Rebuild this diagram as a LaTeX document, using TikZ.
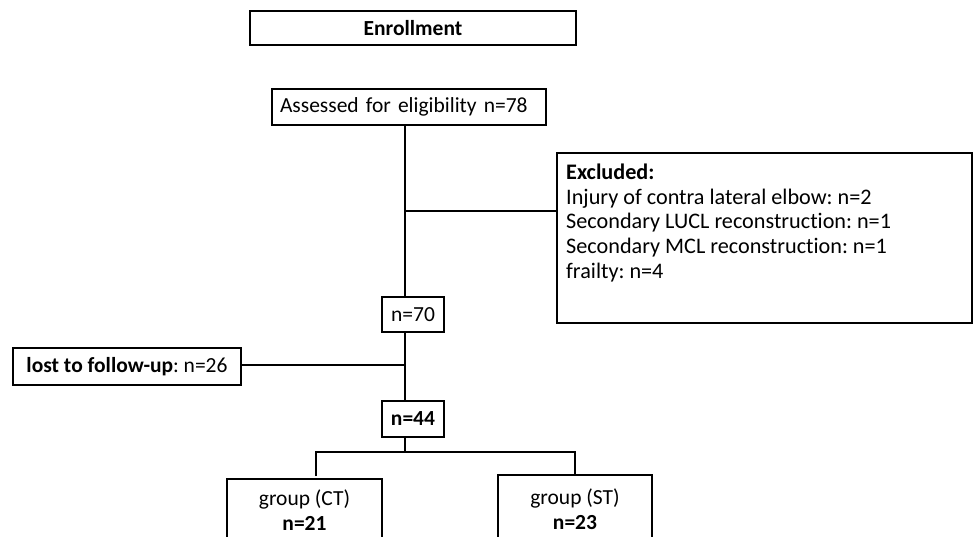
\documentclass[tikz,border=0pt]{standalone}
\usepackage{fontspec}
\setmainfont{Carlito}[Ligatures=NoCommon]
\frenchspacing
\begin{document}
\frenchspacing
\begin{tikzpicture}[x=1pt,y=-1pt,
  box/.style={draw, line width=1.4pt, inner sep=0pt},
  conn/.style={line width=1.4pt},
  font=\fontsize{21.5}{25}\selectfont]
\useasboundingbox (0,0) rectangle (973,537);
\clip (0,0) rectangle (973,537);
\node[box, minimum width=326, minimum height=34] (enroll) at (413,28) {\textbf{Enrollment}};
\node[box, minimum width=274, minimum height=36, text width=258, align=left] (assess) at (409,107) {Assessed for eligibility n=78};
\node[box, minimum width=415, minimum height=170] (excl) at (764.5,238) {};
\node[inner sep=0pt, anchor=north west, align=left, font=\fontsize{22.2}{24.6}\selectfont] (excltext) at (566,164) {\textbf{Excluded:}\\Injury of contra lateral elbow: n=2\\Secondary LUCL reconstruction: n=1\\Secondary MCL reconstruction: n=1\\frailty: n=4};
\node[box, minimum width=62, minimum height=35] (n70) at (413,314.5) {n=70};
\node[box, minimum width=228, minimum height=37] (lost) at (127,366.5) {\textbf{lost to follow-up}: n=26};
\node[box, minimum width=62, minimum height=36] (n44) at (413,419) {\textbf{n=44}};
\node[box, minimum width=155, minimum height=63, align=center] (ct) at (304.5,510.5) {group (CT)\\\textbf{n=21}};
\node[box, minimum width=154, minimum height=69, align=center] (st) at (575,509.5) {group (ST)\\\textbf{n=23}};
\coordinate (spine) at (405,0);
\coordinate (b1) at (405,211);
\coordinate (b2) at (405,365);
\coordinate (split) at (405,452);
\coordinate (lt) at (316,452);
\coordinate (rt) at (575,452);
\coordinate (ctin) at (316,476);
\draw[conn] (assess.south -| spine) -- (n70.north -| spine);
\draw[conn] (b1) -- (b1 -| excl.west);
\draw[conn] (n70.south -| spine) -- (n44.north -| spine);
\draw[conn] (b2) -- (b2 -| lost.east);
\draw[conn] (n44.south -| spine) -- (split);
\draw[conn] (ctin) -- (lt) -- (rt) -- (st.north -| rt);
\end{tikzpicture}
\end{document}
